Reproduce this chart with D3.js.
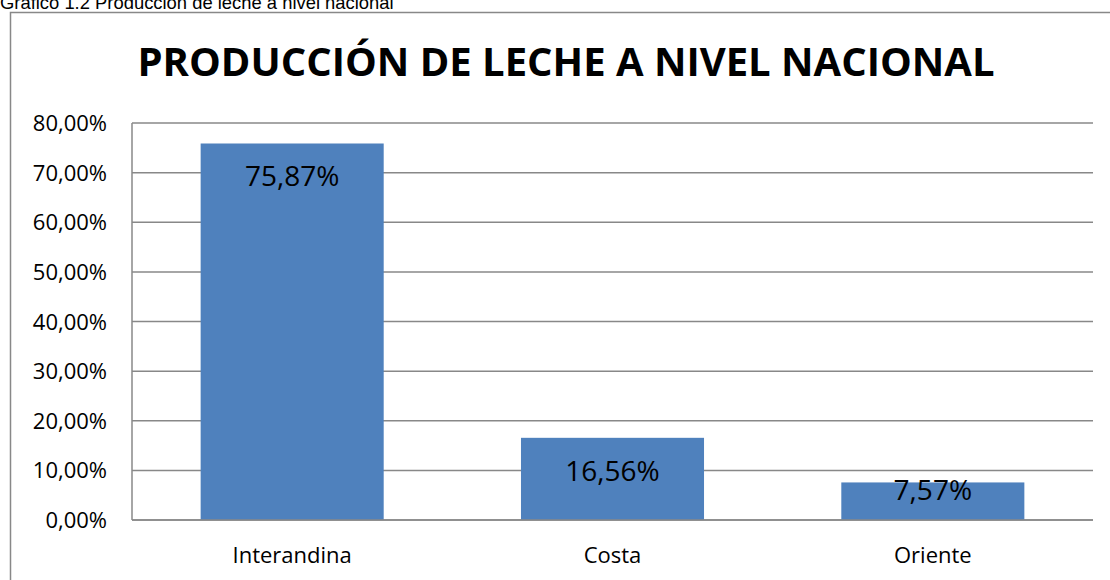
<!DOCTYPE html>
<html>
<head>
<meta charset="utf-8">
<script src="https://cdn.jsdelivr.net/npm/d3@7"></script>
<style>
  body { margin: 0; background: #fff; }
  svg { display: block; }
</style>
</head>
<body>
<div id="chart"></div>
<script>
// data
var regiones = ["Interandina", "Costa", "Oriente"];
var produccion = [75.87, 16.56, 7.57];
var ticks = [0, 10, 20, 30, 40, 50, 60, 70, 80];

var width = 1110, height = 580;
var margin = {left: 132, right: 1093, top: 123, bottom: 520};

var fmt = function (v, dec) { return v.toFixed(dec).replace(".", ",") + "%"; };

var svg = d3.select("#chart").append("svg")
    .attr("width", width)
    .attr("height", height);

// caption above the frame (cut at the top like the scan)
svg.append("text")
    .attr("x", 0)
    .attr("y", 9)
    .style("font-family", "Liberation Sans, Arial, sans-serif")
    .style("font-size", "18.4px")
    .attr("fill", "#000")
    .text("Gráfico 1.2 Producción de leche a nivel nacional");

// outer chart frame
svg.append("rect")
    .attr("x", 10.5)
    .attr("y", 12.5)
    .attr("width", 1120)
    .attr("height", 600)
    .attr("fill", "none")
    .attr("stroke", "#888")
    .attr("stroke-width", 1.5);

svg.append("text")
    .attr("x", 566)
    .attr("y", 76)
    .attr("text-anchor", "middle")
    .style("font-family", "Open Sans, sans-serif")
    .style("font-weight", "bold")
    .style("font-size", "40px")
    .attr("fill", "#000")
    .text("PRODUCCIÓN DE LECHE A NIVEL NACIONAL");

var x = d3.scaleBand()
    .domain(regiones)
    .range([margin.left, margin.right])
    .paddingInner(0.75 / 1.75)
    .paddingOuter(0.75 / 1.75 / 2);

var y = d3.scaleLinear()
    .domain([0, 80])
    .range([margin.bottom, margin.top]);

// gridlines
svg.append("g")
    .selectAll("line")
    .data(ticks)
    .enter()
        .append("line")
        .attr("x1", margin.left)
        .attr("x2", margin.right)
        .attr("y1", function(d) { return y(d); })
        .attr("y2", function(d) { return y(d); })
        .attr("stroke", "#888")
        .attr("stroke-width", 1.5);

// left axis line
svg.append("line")
    .attr("x1", margin.left).attr("x2", margin.left)
    .attr("y1", margin.top).attr("y2", margin.bottom)
    .attr("stroke", "#888")
    .attr("stroke-width", 1.5);

// y tick labels
svg.append("g")
    .selectAll("text")
    .data(ticks)
    .enter()
        .append("text")
        .attr("x", 107)
        .attr("y", function(d) { return y(d) + 8; })
        .attr("text-anchor", "end")
        .style("font-family", "Open Sans, sans-serif")
        .style("font-size", "22px")
        .attr("fill", "#000")
        .text(function(d) { return fmt(d, 2); });

var datos = regiones.map(function(r, i) { return {region: r, valor: produccion[i]}; });

svg.append("g")
    .selectAll("rect")
    .data(datos)
    .enter()
        .append("rect")
        .attr("x", function(d) { return x(d.region); })
        .attr("y", function(d) { return y(d.valor); })
        .attr("width", x.bandwidth())
        .attr("height", function(d) { return y(0) - y(d.valor); })
        .attr("fill", "#4F81BD");

// redraw baseline over bars
svg.append("line")
    .attr("x1", margin.left).attr("x2", margin.right)
    .attr("y1", y(0)).attr("y2", y(0))
    .attr("stroke", "#888")
    .attr("stroke-width", 1.5);

// data labels, inside end
svg.append("g")
    .selectAll("text")
    .data(datos)
    .enter()
        .append("text")
        .attr("x", function(d) { return x(d.region) + x.bandwidth() / 2; })
        .attr("y", function(d) { return Math.min(y(d.valor) + 43, y(0) - 20); })
        .attr("text-anchor", "middle")
        .style("font-family", "Open Sans, sans-serif")
        .style("font-size", "28px")
        .attr("fill", "#000")
        .text(function(d) { return fmt(d.valor, 2); });

// category labels
svg.append("g")
    .selectAll("text")
    .data(regiones)
    .enter()
        .append("text")
        .attr("x", function(d) { return x(d) + x.bandwidth() / 2; })
        .attr("y", 563)
        .attr("text-anchor", "middle")
        .style("font-family", "Open Sans, sans-serif")
        .style("font-size", "22px")
        .attr("fill", "#000")
        .text(function(d) { return d; });
</script>
</body>
</html>
